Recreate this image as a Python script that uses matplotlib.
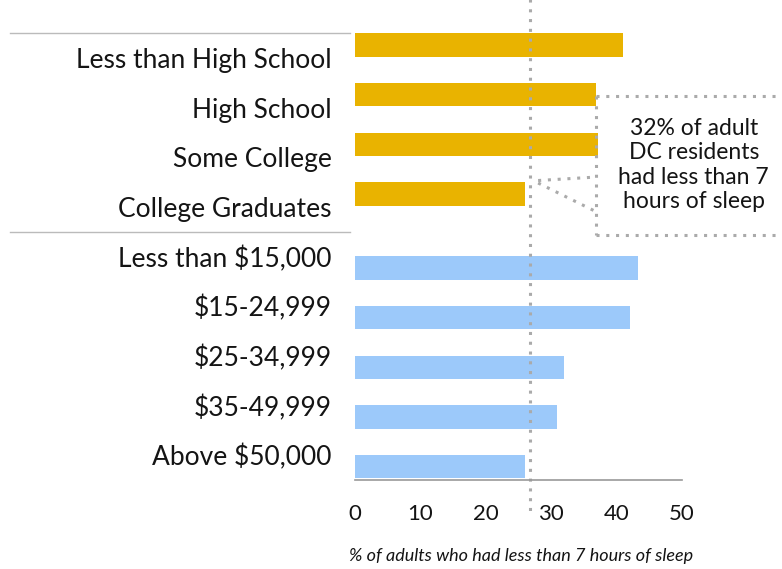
import matplotlib.pyplot as plt
from matplotlib.lines import Line2D

# categories and values (% of adults with < 7 hours of sleep)
edu_labels = ["Less than High School", "High School", "Some College", "College Graduates"]
edu_values = [41.0, 36.8, 37.2, 26.0]
inc_labels = ["Less than $15,000", "$15-24,999", "$25-34,999", "$35-49,999", "Above $50,000"]
inc_values = [43.3, 42.0, 32.0, 30.9, 26.0]
dc_average = 26.8
note = "32% of adult\nDC residents\nhad less than 7\nhours of sleep"

plt.rcParams['font.family'] = ['Lato', 'DejaVu Sans']

fig = plt.figure(figsize=(7.82, 5.69), dpi=100)
ax = fig.add_axes([355 / 782, 1 - 480 / 569, 327 / 782, 447 / 569])

gold = "#E9B300"
blue = "#9CC9FA"
ink = "#141414"

# label slots, bars sit slightly above (education) or below (income) their label
edu_pos = [i - 0.26 for i in range(len(edu_labels))]
inc_pos = [i + len(edu_labels) + 0.23 for i in range(len(inc_labels))]

ax.barh(edu_pos, edu_values, height=0.47, color=gold)
ax.barh(inc_pos, inc_values, height=0.47, color=blue)

ax.set_xlim(0, 50)
ax.set_ylim(8.5, -0.5)
ax.set_yticks(range(len(edu_labels) + len(inc_labels)))
ax.set_yticklabels(edu_labels + inc_labels, fontsize=19, color=ink)
ax.tick_params(axis="y", length=0, pad=17)
ax.set_xticks([0, 10, 20, 30, 40, 50])
ax.tick_params(axis="x", length=0, pad=17, labelsize=16, labelcolor=ink)

for s in ["top", "right", "left"]:
    ax.spines[s].set_visible(False)
ax.spines["bottom"].set_color("#999999")
ax.spines["bottom"].set_linewidth(1.2)

ax.set_xlabel("% of adults who had less than 7 hours of sleep", fontsize=13,
              style="italic", color=ink)
ax.xaxis.set_label_coords(0.509, -0.152)

# group separator lines on the left
for ypix in [33, 232]:
    fig.add_artist(Line2D([10 / 782, 350 / 782], [1 - ypix / 569] * 2,
                          color="#bbbbbb", lw=1.0))

# DC average dotted line
dot = dict(color="#aaaaaa", lw=2.2, linestyle=(0, (1, 2.2)), clip_on=False)
ax.plot([dc_average, dc_average], [-1.2, 9.2], **dot)

# callout box
hs_y = edu_pos[1] + 0.03
box_x = edu_values[1] + 0.1
box_bot = 3.57
ax.plot([box_x, 66], [hs_y, hs_y], **dot)
ax.plot([box_x, box_x], [hs_y, box_bot], **dot)
ax.plot([box_x, 66], [box_bot, box_bot], **dot)
ax.plot([dc_average + 1.2, box_x], [2.47, 2.40], **dot)
ax.plot([dc_average + 1.2, box_x], [2.52, 3.10], **dot)

ax.text(51.8, 2.16, note, ha="center", va="center", fontsize=16.5,
        color=ink, linespacing=1.2)

fig.savefig("out.png", dpi=100)
